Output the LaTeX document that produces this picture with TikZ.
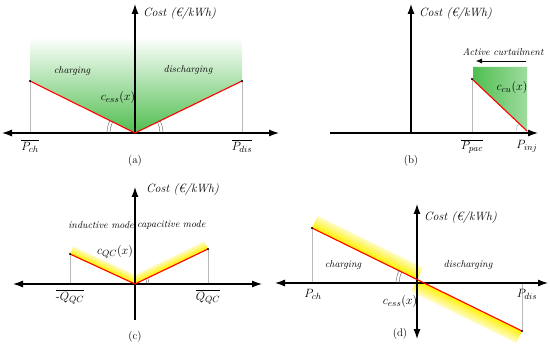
\documentclass[tikz,border=0pt]{standalone}
\usepackage{fontspec}
\usetikzlibrary{arrows.meta,calc}
\definecolor{gfill}{RGB}{80,190,80}
\begin{document}
\begin{tikzpicture}[x=1pt,y=-1pt,
  axis/.style={line width=1.1pt,black},
  tipR/.style={-{Latex[length=10pt,width=7pt]}},
  tipB/.style={{Latex[length=10pt,width=7pt]}-{Latex[length=10pt,width=7pt]}},
  guide/.style={gray!55,line width=0.5pt},
  cost/.style={red,line width=1.1pt},
  lbl/.style={font=\fontsize{10}{12}\selectfont\itshape,inner sep=0pt},
  mlbl/.style={font=\fontsize{12.5}{14}\selectfont,inner sep=0pt},
  costlbl/.style={font=\fontsize{12}{14}\selectfont\itshape,inner sep=0pt,anchor=west},
  panelcap/.style={font=\fontsize{11}{13}\selectfont,inner sep=0pt},
  dotpt/.style={fill=black,circle,inner sep=0pt,minimum size=2.4pt},
  ang/.style={gray!70!black,line width=0.4pt}
]
\useasboundingbox (0,0) rectangle (550,345);

%%%%%%%%%%%% (a)
\coordinate (aL) at (2,133); \coordinate (aR) at (279,133);
\coordinate (aO) at (135,133); \coordinate (aT) at (135,4);
\coordinate (aA) at (30,81); \coordinate (aB) at (242,81);
\shade[top color=white,bottom color=gfill] (30,37) -- (242,37) -- (aB) -- (aO) -- (aA) -- cycle;
\draw[guide] (aA) -- (30,133);
\draw[guide] (aB) -- (242,133);
\draw[axis,tipB] (aL) -- (aR);
\draw[axis,tipR] (aO) -- (aT);
\draw[cost] (aA) -- (aO) -- (aB);
\node[dotpt] (aAd) at (aA) {};
\node[dotpt] (aBd) at (aB) {};
\draw[ang] (aO) ++(180:25pt) arc[start angle=180,end angle=154,radius=25pt];
\draw[ang] (aO) ++(180:28pt) arc[start angle=180,end angle=154,radius=28pt];
\draw[ang] (aO) ++(0:25pt) arc[start angle=0,end angle=26,radius=25pt];
\draw[ang] (aO) ++(0:28pt) arc[start angle=0,end angle=26,radius=28pt];
\node[costlbl] (acost) at (143,14) {Cost (€/kWh)};
\node[lbl] (ach) at (72,71) {charging};
\node[lbl] (adis) at (188,70) {discharging};
\node[mlbl] (ac) at (118,98) {$c_{ess}(x)$};
\node[mlbl] (aPch) at (30,146) {$\overline{P_{ch}}$};
\node[mlbl] (aPdis) at (242,146) {$\overline{P_{dis}}$};
\node[panelcap] (acap) at (135,161) {(a)};

%%%%%%%%%%%% (b)
\coordinate (bL) at (330,133); \coordinate (bR) at (538,133);
\coordinate (bO) at (411,133); \coordinate (bT) at (411,4);
\coordinate (bA) at (472,79); \coordinate (bB) at (527,131);
\shade[left color=gfill,right color=gfill!55!white] (473,67) -- (527,67) -- (bB) -- (473,80) -- cycle;
\draw[guide] (bA) -- (472,133);
\draw[ang,gray!60] (bB) ++(180:11pt) arc[start angle=180,end angle=137,radius=11pt];
\draw[axis,tipR] (bL) -- (bR);
\draw[axis,tipR] (bO) -- (bT);
\draw[cost] (bA) -- (bB);
\node[dotpt] (bAd) at (bA) {};
\coordinate (bc1) at (526,61); \coordinate (bc2) at (476,61);
\draw[line width=0.5pt,-{Latex[length=6pt,width=5pt]}] (bc1) -- (bc2);
\node[costlbl] (bcost) at (419,14) {Cost (€/kWh)};
\node[lbl] (bact) at (503,52) {Active curtailment};
\node[mlbl] (bc) at (512,88) {$c_{cu}(x)$};
\node[mlbl] (bPpac) at (472,146) {$\overline{P_{pac}}$};
\node[mlbl] (bPinj) at (527,146) {$P_{inj}$};
\node[panelcap] (bcap) at (411,161) {(b)};

%%%%%%%%%%%% (c)
\coordinate (cL) at (13,284); \coordinate (cR) at (262,284);
\coordinate (cO) at (135,284); \coordinate (cT) at (135,187); \coordinate (cD) at (135,320);
\coordinate (cA) at (70,254); \coordinate (cB) at (208,249);
\foreach \i in {8,7.5,...,0} {
  \pgfmathtruncatemacro{\pc}{100-10*\i}
  \draw[yellow!\pc!white,line width=0.8pt] ($(cA)!\i pt!90:(cO)$) -- ($(cO)!\i pt!-90:(cA)$);
  \draw[yellow!\pc!white,line width=0.8pt] ($(cO)!\i pt!90:(cB)$) -- ($(cB)!\i pt!-90:(cO)$);
}
\draw[guide] (cA) -- (70,284);
\draw[guide] (cB) -- (208,284);
\draw[axis,tipB] (cL) -- (cR);
\draw[axis,tipR] (cD) -- (cT);
\draw[cost] (cA) -- (cO) -- (cB);
\node[dotpt] (cAd) at (cA) {};
\node[dotpt] (cBd) at (cB) {};
\draw[ang] (cO) ++(0:12pt) arc[start angle=0,end angle=25,radius=12pt];
\draw[ang] (cO) ++(0:14pt) arc[start angle=0,end angle=25,radius=14pt];
\node[costlbl] (ccost) at (146,190) {Cost (€/kWh)};
\node[lbl,anchor=east] (cind) at (134,225) {inductive mode};
\node[lbl,anchor=west] (ccap2) at (137,225) {capacitive mode};
\node[mlbl] (cc) at (115,252) {$c_{QC}(x)$};
\node[mlbl] (cQm) at (70,297) {$\overline{\mbox{-}Q_{QC}}$};
\node[mlbl] (cQp) at (208,297) {$\overline{Q_{QC}}$};
\node[panelcap] (ccap) at (135,337) {(c)};

%%%%%%%%%%%% (d)
\coordinate (dL) at (275,283); \coordinate (dR) at (548,283);
\coordinate (dT) at (417,204); \coordinate (dD) at (417,339);
\coordinate (dA) at (312,228); \coordinate (dB) at (522,331);
\coordinate (dX) at (intersection of dA--dB and dT--dD);
\coordinate (dY) at (intersection of dA--dB and dL--dR);
\foreach \i in {13,12.5,...,0} {
  \pgfmathtruncatemacro{\pc}{100-6*\i}
  \draw[yellow!\pc!white,line width=0.8pt] ($(dA)!\i pt!90:(dX)$) -- ($(dX)!\i pt!-90:(dA)$);
  \draw[yellow!\pc!white,line width=0.8pt] ($(dX)!\i pt!-90:(dB)$) -- ($(dB)!\i pt!90:(dX)$);
}
\draw[guide] (dA) -- (312,283);
\draw[guide] (dB) -- (522,283);
\draw[axis,tipB] (dL) -- (dR);
\draw[axis,tipB] (dD) -- (dT);
\draw[line width=1.8pt] (306,283) -- (322,283);
\draw[cost] (dA) -- (dB);
\node[dotpt] (dAd) at (dA) {};
\node[dotpt] (dBd) at (dB) {};
\draw[ang] (dY) ++(180:25pt) arc[start angle=180,end angle=154,radius=25pt];
\draw[ang] (dY) ++(180:28pt) arc[start angle=180,end angle=154,radius=28pt];
\node[costlbl] (dcost) at (424,218) {Cost (€/kWh)};
\node[lbl] (dch) at (343,265) {charging};
\node[lbl] (ddis) at (468,265) {discharging};
\node[mlbl] (dc) at (400,302) {$c_{ess}(x)$};
\node[mlbl] (dPch) at (313,294) {$P_{ch}$};
\node[mlbl] (dPdis) at (527,294) {$P_{dis}$};
\node[panelcap] (dcap) at (400,334) {(d)};
\end{tikzpicture}
\end{document}
